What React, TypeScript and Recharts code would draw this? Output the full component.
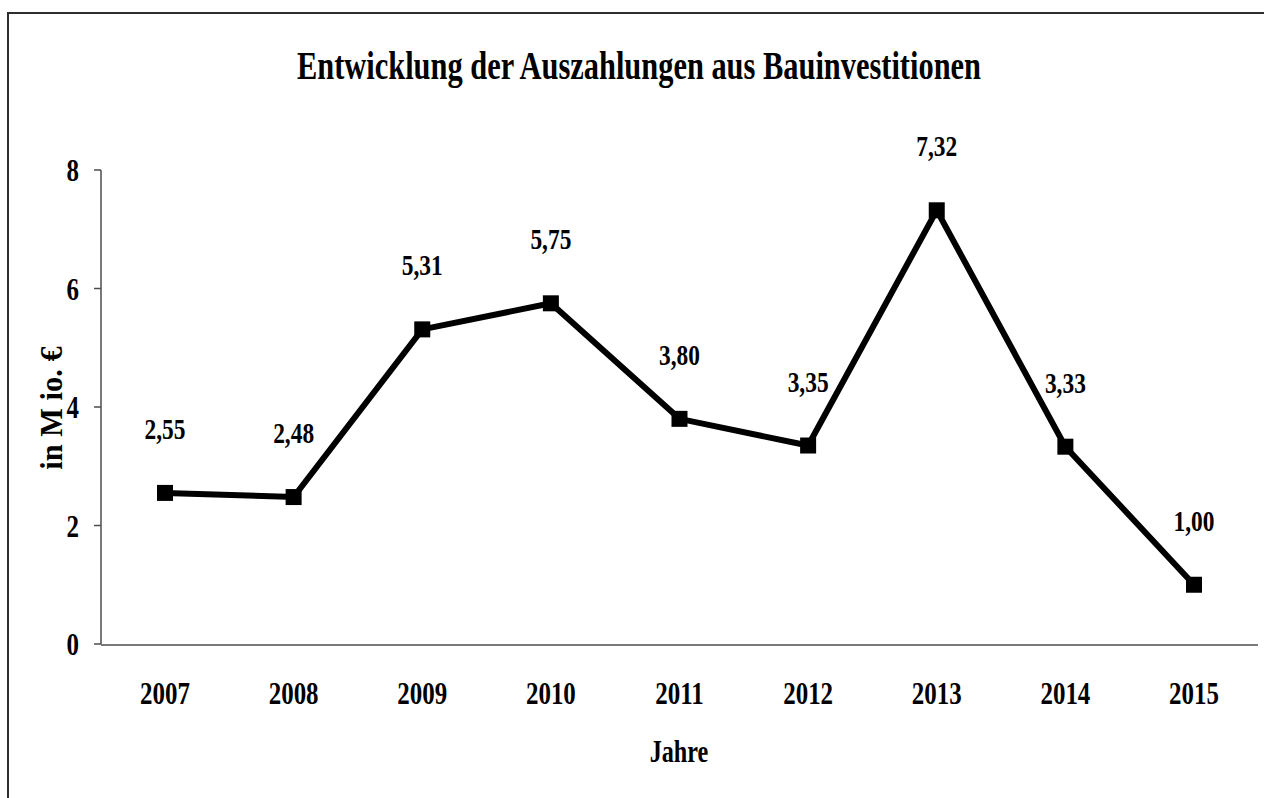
import { ComposedChart, Line, XAxis, YAxis, LabelList } from 'recharts';

// Jahre und Auszahlungen in Mio. €
const years = ['2007', '2008', '2009', '2010', '2011', '2012', '2013', '2014', '2015'];
const payouts = [2.55, 2.48, 5.31, 5.75, 3.8, 3.35, 7.32, 3.33, 1.0];
const valueTicks = [0, 2, 4, 6, 8];
const boundaryTicks = [0, 1, 2, 3, 4, 5, 6, 7, 8, 9];

const chartData = years.map((year, i) => ({ year, value: payouts[i] }));

const FONT = '"Liberation Serif", "Times New Roman", serif';

const fmt = (v: number) => v.toFixed(2).replace('.', ',');

// condensed bold serif text like the original export
const Squeezed = ({ x, y, size, children, anchor = 'middle', rotate = 0, squeeze = 0.78 }: any) => (
  <text
    x={0}
    y={0}
    transform={`translate(${x},${y}) rotate(${rotate}) scale(${squeeze},1)`}
    textAnchor={anchor}
    fontFamily={FONT}
    fontWeight="bold"
    fontSize={size}
    fill="#000"
  >
    {children}
  </text>
);

const YearTick = ({ x, y, payload }: any) => (
  <Squeezed x={x} y={y + 52} size={32}>{payload.value}</Squeezed>
);

const ValueTick = ({ x, y, payload }: any) => (
  <Squeezed x={x - 13} y={y + 11} size={32} anchor="end">{payload.value}</Squeezed>
);

const SquareDot = ({ cx, cy }: any) => (
  <rect x={cx - 8} y={cy - 8} width={16} height={16} fill="#000" />
);

const ValueLabel = ({ x, y, value }: any) => (
  <Squeezed x={x} y={y - 54} size={30}>{fmt(value)}</Squeezed>
);

export default function App() {
  return (
    <div style={{ position: 'absolute', left: 0, top: 0, width: 1264, height: 798, overflow: 'hidden', background: '#fff' }}>
      <div
        style={{
          position: 'absolute',
          left: 7,
          top: 12,
          width: 1400,
          height: 900,
          border: '2px solid #2e2e2e',
        }}
      />
      <div style={{ position: 'absolute', left: 0, top: 0 }}>
        <ComposedChart
          width={1264}
          height={798}
          data={chartData}
          margin={{ top: 170, right: 6, bottom: 93, left: 41 }}
        >
          <XAxis
            xAxisId="grid"
            type="number"
            domain={[0, 9]}
            ticks={boundaryTicks}
            allowDataOverflow
            height={60}
            tick={false}
            tickSize={11}
            stroke="#4d4d4d"
            strokeWidth={1.5}
          />
          <XAxis
            xAxisId="cat"
            dataKey="year"
            height={1}
            padding={{ left: 64, right: 64 }}
            axisLine={false}
            tickLine={false}
            tick={<YearTick />}
            interval={0}
          />
          <YAxis
            domain={[0, 8]}
            ticks={valueTicks}
            width={60}
            tickSize={7}
            stroke="#4d4d4d"
            strokeWidth={1.5}
            tick={<ValueTick />}
          />
          <Line
            xAxisId="cat"
            dataKey="value"
            stroke="#000"
            strokeWidth={6}
            strokeLinejoin="miter"
            dot={<SquareDot />}
            activeDot={false}
            isAnimationActive={false}
          >
            <LabelList dataKey="value" content={<ValueLabel />} />
          </Line>
        </ComposedChart>
      </div>
      <svg width={1264} height={798} style={{ position: 'absolute', left: 0, top: 0, pointerEvents: 'none' }}>
        <Squeezed x={639} y={79} size={39}>Entwicklung der Auszahlungen aus Bauinvestitionen</Squeezed>
        <Squeezed x={679} y={762} size={31}>Jahre</Squeezed>
        <Squeezed x={62} y={408} size={32} rotate={-90} squeeze={0.95}>in M io. €</Squeezed>
      </svg>
    </div>
  );
}
